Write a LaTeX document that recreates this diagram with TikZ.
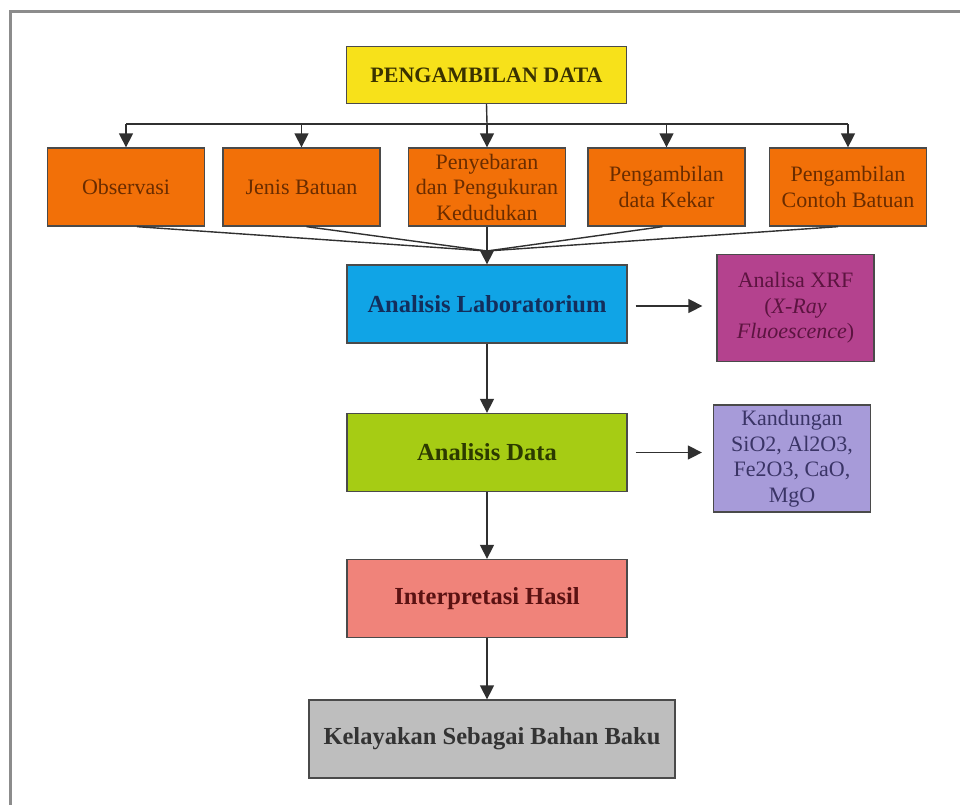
\documentclass[tikz,border=0pt]{standalone}
\usepackage{fontspec}
\setmainfont{Liberation Serif}
\usetikzlibrary{arrows.meta,calc}
\definecolor{cyel}{HTML}{F7E11A}
\definecolor{cora}{HTML}{F27008}
\definecolor{cblu}{HTML}{10A4E6}
\definecolor{cmag}{HTML}{B4428E}
\definecolor{cgrn}{HTML}{A6CC14}
\definecolor{clav}{HTML}{A79BD9}
\definecolor{cpnk}{HTML}{F0837A}
\definecolor{cgry}{HTML}{BEBEBE}
\definecolor{bline}{HTML}{4A4A4A}
\definecolor{aline}{HTML}{303030}
\definecolor{frm}{HTML}{8C8C8C}
\definecolor{toyel}{HTML}{3A3200}
\definecolor{toora}{HTML}{6A2C00}
\definecolor{toblu}{HTML}{132E5C}
\definecolor{tomag}{HTML}{5C1440}
\definecolor{togrn}{HTML}{2C3A00}
\definecolor{tolav}{HTML}{3A3466}
\definecolor{topnk}{HTML}{5A1212}
\definecolor{togry}{HTML}{333333}
\tikzset{
  box/.style={draw=bline, line width=1.3pt, inner sep=0pt, align=center,
    font=\fontsize{22}{25.5}\selectfont},
  bigbox/.style={box, minimum width=280pt, minimum height=78pt,
    font=\fontsize{24.5}{28}\selectfont\bfseries},
  obox/.style={box, fill=cora, text=toora, minimum width=157pt, minimum height=78pt},
  sbox/.style={box, minimum width=157pt, minimum height=107pt},
  arr/.style={draw=aline, line width=1.4pt, -{Triangle[length=14pt,width=14pt]}},
  ln/.style={draw=aline, line width=1.4pt},
}
\begin{document}
\begin{tikzpicture}[x=1pt,y=-1pt]
\useasboundingbox (0,0) rectangle (960,804);
\fill[white] (0,0) rectangle (960,804);
\draw[frm, line width=3pt] (10,806) -- (10,11) -- (962,11);

\node[box, fill=cyel, text=toyel, minimum width=280pt, minimum height=57pt,
  font=\fontsize{22}{25}\selectfont\bfseries] (top) at (486.5,75) {PENGAMBILAN DATA};

\node[obox] (o1) at (126,187) {Observasi};
\node[obox] (o2) at (301.5,187) {Jenis Batuan};
\node[obox] (o3) at (487,187) {Penyebaran\\dan Pengukuran\\Kedudukan};
\node[obox] (o4) at (666.5,187) {Pengambilan\\data Kekar};
\node[obox] (o5) at (848,187) {Pengambilan\\Contoh Batuan};

\node[bigbox, fill=cblu, text=toblu] (lab) at (487,304) {Analisis Laboratorium};
\node[sbox, fill=cmag, text=tomag] (xrf) at (795.5,308) {Analisa XRF\\(\textit{X-Ray}\\\textit{Fluoescence})};
\node[bigbox, fill=cgrn, text=togrn] (dat) at (487,452.5) {Analisis Data};
\node[sbox, fill=clav, text=tolav] (kan) at (792,458.5) {Kandungan\\SiO2, Al2O3,\\Fe2O3, CaO,\\MgO};
\node[bigbox, fill=cpnk, text=topnk] (int) at (487,598.5) {Interpretasi Hasil};
\node[bigbox, fill=cgry, text=togry, minimum width=366pt] (kel) at (492,739) {Kelayakan Sebagai Bahan Baku};

% distribution bus
\coordinate (bus) at (487,124);
\draw[ln] (top.south) -- (bus);
\draw[ln] (o1.north |- bus) -- (o5.north |- bus);
\foreach \o in {o1,o2,o3,o4,o5}{
  \draw[arr] (\o.north |- bus) -- (\o.north);
}

% convergence
\coordinate (conv) at (487,251);
\draw[ln] ([xshift=11pt]o1.south) -- (conv);
\draw[ln] ([xshift=5pt]o2.south) -- (conv);
\draw[ln] ([xshift=-4pt]o4.south) -- (conv);
\draw[ln] ([xshift=-10pt]o5.south) -- (conv);
\draw[arr] (o3.south) -- (lab.north);

% side arrows
\draw[arr, shorten <=8pt, shorten >=14pt] ([yshift=-2pt]lab.east) -- ([yshift=-2pt]lab.east -| xrf.west);
\draw[arr, shorten <=8pt, shorten >=11pt] (dat.east) -- (dat.east -| kan.west);

% main chain
\draw[arr] (lab.south) -- (dat.north);
\draw[arr] (dat.south) -- (int.north);
\draw[arr] (int.south) -- (int.south |- kel.north);
\end{tikzpicture}
\end{document}
